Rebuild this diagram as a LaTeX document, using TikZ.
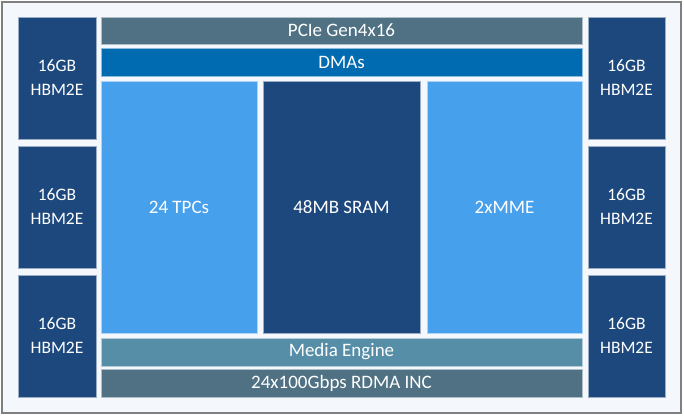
\documentclass[tikz,border=0pt]{standalone}
\usepackage{fontspec}
\setmainfont{Carlito}
\definecolor{hbmc}{HTML}{1D487E}
\definecolor{slatec}{HTML}{4F7183}
\definecolor{dmac}{HTML}{006BB1}
\definecolor{lightc}{HTML}{47A0EC}
\definecolor{mediac}{HTML}{568EA8}
\definecolor{bgc}{HTML}{F4F8FC}
\definecolor{framec}{HTML}{7F7F7F}
\begin{document}
\begin{tikzpicture}[x=1pt,y=-1pt,
  blk/.style={draw=white!55!#1, fill=#1, line width=0.6pt, inner sep=0pt, text=white,
    font=\fontsize{19}{23}\selectfont, align=center},
  hbm/.style={blk=hbmc, minimum height=122pt, font=\fontsize{17.5}{24}\selectfont}]
\useasboundingbox (0,0) rectangle (684,415);
\fill[white] (0,0) rectangle (684,415);
\node[draw=framec, fill=bgc, line width=1.2pt, inner sep=0pt, minimum width=679pt, minimum height=411pt] (frame) at (341.5,207.5) {};
% left HBM
\node[hbm, minimum width=78pt] (hl1) at (57,78) {16GB\\HBM2E};
\node[hbm, minimum width=78pt] (hl2) at (57,207) {16GB\\HBM2E};
\node[hbm, minimum width=78pt] (hl3) at (57,336) {16GB\\HBM2E};
% right HBM
\node[hbm, minimum width=77pt] (hr1) at (626.5,78) {16GB\\HBM2E};
\node[hbm, minimum width=77pt] (hr2) at (626.5,207) {16GB\\HBM2E};
\node[hbm, minimum width=77pt] (hr3) at (626.5,336) {16GB\\HBM2E};
% bars
\node[blk=slatec, minimum width=481pt, minimum height=27pt] (pcie) at (341.5,30.5) {PCIe Gen4x16};
\node[blk=dmac, minimum width=481pt, minimum height=28pt] (dma) at (341.5,62) {DMAs};
\node[blk=lightc, minimum width=156pt, minimum height=252pt] (tpc) at (179,207) {24 TPCs};
\node[blk=hbmc, minimum width=157pt, minimum height=252pt] (sram) at (341.5,207) {48MB SRAM};
\node[blk=lightc, minimum width=155pt, minimum height=252pt] (mme) at (504.5,207) {2xMME};
\node[blk=mediac, minimum width=481pt, minimum height=28pt] (media) at (341.5,352) {Media Engine};
\node[blk=slatec, minimum width=481pt, minimum height=28pt] (rdma) at (341.5,383) {24x100Gbps RDMA INC};
\end{tikzpicture}
\end{document}
